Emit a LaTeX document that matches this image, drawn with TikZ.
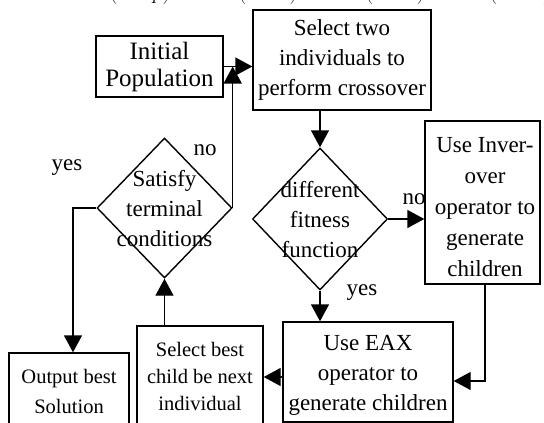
\documentclass[tikz,border=0pt]{standalone}
\usepackage{fontspec}
\setmainfont{Liberation Serif}
\usetikzlibrary{shapes.geometric,arrows.meta}
\tikzset{
  box/.style={draw,line width=1.4pt,rectangle,inner sep=0pt},
  dia/.style={draw,line width=1.4pt,diamond,inner sep=0pt},
  txt/.style={align=center,inner sep=0pt,font=\fontsize{23}{30}\selectfont},
  small/.style={align=center,inner sep=0pt,font=\fontsize{20.5}{27}\selectfont},
  lbl/.style={inner sep=0pt,font=\fontsize{23}{28}\selectfont},
  arr/.style={line width=1.4pt,-{Triangle[length=17pt,width=18pt]}},
  mfrag/.style={anchor=base,inner sep=0pt,font=\fontsize{20}{24}\selectfont},
}
\begin{document}
\begin{tikzpicture}[x=1pt,y=-1pt]
\useasboundingbox (0,0) rectangle (544,423);
\clip (0,0) rectangle (544,423);
% clipped formula fragments at the top edge
\node[mfrag] (f1) at (140,0) {$(1-p)$};
\node[mfrag] (f2) at (268,0) {$(1-b)$};
\node[mfrag] (f3) at (395,0) {$(1-b)$};
\node[mfrag] (f4) at (520,0) {$(1-a)$};
% boxes
\node[box,minimum width=127pt,minimum height=61pt,align=center,
      font=\fontsize{25}{27}\selectfont] (init) at (159.5,66.5) {Initial\\Population};
\node[box,txt,minimum width=178pt,minimum height=100pt] (sel) at (342,60)
  {Select two\\individuals to\\perform crossover};
\node[dia,minimum width=135pt,minimum height=142pt] (fit) at (320,219) {};
\node[txt] (fitt) at (320,220) {different\\fitness\\function};
\node[dia,minimum width=135pt,minimum height=140pt] (sat) at (164.5,208) {};
\node[txt] (satt) at (164.5,209) {Satisfy\\terminal\\conditions};
\node[box,minimum width=115pt,minimum height=163pt] (inver) at (482.5,202.5) {};
\node[align=center,inner sep=0pt,font=\fontsize{23}{31}\selectfont] (invert) at (485,207)
  {Use Inver-\\over\\operator to\\generate\\children};
\node[box,minimum width=170pt,minimum height=100pt] (eax) at (368,372) {};
\node[txt] (eaxt) at (368,375) {Use EAX\\operator to\\generate children};
\node[box,minimum width=126pt,minimum height=110pt] (best) at (200,381) {};
\node[small] (bestt) at (200,376) {Select best\\child be next\\individual};
\node[box,minimum width=120pt,minimum height=80pt] (out) at (69,393) {};
\node[small,font=\fontsize{20.5}{30}\selectfont] (outt) at (69,391) {Output best\\Solution};
% labels
\node[lbl] (no1) at (205,150) {no};
\node[lbl] (yes1) at (67,168) {yes};
\node[lbl] (no2) at (414,199) {no};
\node[lbl] (yes2) at (362,293) {yes};
% helper coordinates
\coordinate (j2) at (485,381);
\coordinate (j3) at (273,377);
\coordinate (j4) at (73,208);
% connectors
\draw[arr] (init.east) -- (init.east -| sel.west);
\draw[arr] (sat.east) -- (sat.east |- init.east);
\draw[arr] (fit.north |- sel.south) -- (fit.north);
\draw[arr] (fit.east) -- (fit.east -| inver.west);
\draw[arr] (fit.south) -- (fit.south |- eax.north);
\draw[arr] (j2 |- inver.south) -- (j2) -- (j2 -| eax.east);
\draw[arr] (eax.west |- j3) -- (best.east |- j3);
\draw[arr] (sat.south |- best.north) -- (sat.south);
\draw[arr] (sat.west) -- (j4) -- (j4 |- out.north);
\end{tikzpicture}
\end{document}
